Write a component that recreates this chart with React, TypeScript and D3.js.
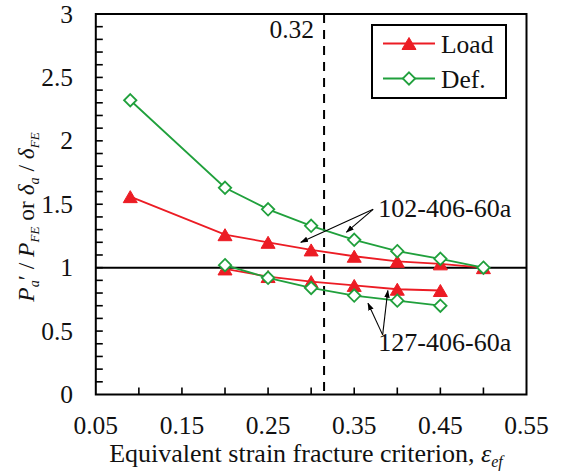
import React from "react";
import * as d3 from "d3";

const W = 561;
const H = 476;

// Data
const xTop = [0.09, 0.2, 0.25, 0.3, 0.35, 0.4, 0.45, 0.5];
const loadTop = [1.56, 1.26, 1.2, 1.14, 1.09, 1.05, 1.03, 1.0];
const defTop = [2.32, 1.63, 1.46, 1.33, 1.22, 1.13, 1.07, 1.0];
const xBot = [0.2, 0.25, 0.3, 0.35, 0.4, 0.45];
const loadBot = [0.99, 0.93, 0.89, 0.86, 0.83, 0.82];
const defBot = [1.02, 0.92, 0.84, 0.78, 0.74, 0.7];

const xTickLabels = [0.05, 0.15, 0.25, 0.35, 0.45, 0.55];
const yTickLabels = [0, 0.5, 1, 1.5, 2, 2.5, 3];
const criterion = 0.315;
const criterionLabel = "0.32";
const refLine = 1;

const RED = "#EC1C24";
const GREEN = "#20A03C";
const FONT = "Liberation Serif";

const x = d3.scaleLinear().domain([0.05, 0.55]).range([95.8, 526.5]);
const y = d3.scaleLinear().domain([0, 3]).range([394.5, 14]);

const line = d3
  .line<[number, number]>()
  .x((d) => x(d[0]))
  .y((d) => y(d[1]));

const zip = (a: number[], b: number[]) => a.map((v, i) => [v, b[i]] as [number, number]);

const triPath = (cx: number, cy: number) => {
  const w = 14, h = 12;
  return `M${cx},${cy - h / 2}L${cx + w / 2},${cy + h / 2}L${cx - w / 2},${cy + h / 2}Z`;
};
const diaPath = (cx: number, cy: number) => {
  const r = 6.2;
  return `M${cx},${cy - r}L${cx + r},${cy}L${cx},${cy + r}L${cx - r},${cy}Z`;
};

// annotations in data coordinates
const ann102 = { label: "102-406-60a", lx: 0.378, ly: 1.4, ox: 0.372, oy: 1.46, ends: [[0.288, 1.2], [0.341, 1.28]] };
const ann127 = { label: "127-406-60a", lx: 0.378, ly: 0.34, ox: 0.383, oy: 0.47, ends: [[0.366, 0.72], [0.389, 0.82]] };

export default function App() {
  const xMinorTicks = d3.range(0.1, 0.5001, 0.05);
  const yMinorTicks = d3.range(0.1, 2.9501, 0.1);
  const [x0, x1] = x.range();
  const [y0, y1] = y.range();
  const fs = 25.5;
  const fa = 26;

  const Series = ({ xs, ys, color, kind }: { xs: number[]; ys: number[]; color: string; kind: "tri" | "dia" }) => (
    <g>
      <path d={line(zip(xs, ys)) || ""} fill="none" stroke={color} strokeWidth={1.8} />
      {xs.map((xv, i) =>
        kind === "tri" ? (
          <path key={i} d={triPath(x(xv), y(ys[i]))} fill={color} stroke={color} strokeWidth={1} />
        ) : (
          <path key={i} d={diaPath(x(xv), y(ys[i]))} fill="#fff" stroke={color} strokeWidth={1.8} />
        )
      )}
    </g>
  );

  const Ann = ({ a }: { a: typeof ann102 }) => (
    <g>
      {a.ends.map((e, i) => (
        <line key={i} x1={x(a.ox)} y1={y(a.oy)} x2={x(e[0])} y2={y(e[1])} stroke="#000" strokeWidth={1.1} markerEnd="url(#arr)" />
      ))}
      <text x={x(a.lx)} y={y(a.ly)} fontSize={fa} fontFamily={FONT} fill="#111">{a.label}</text>
    </g>
  );

  return (
    <svg width={W} height={H} style={{ position: "absolute", left: 0, top: 0, background: "#fff" }}>
      <defs>
        <marker id="arr" viewBox="0 0 10 10" refX="9" refY="5" markerWidth="8" markerHeight="8" orient="auto" markerUnits="userSpaceOnUse">
          <path d="M0,1.5L10,5L0,8.5Z" fill="#000" />
        </marker>
      </defs>
      <rect x={0} y={0} width={W} height={H} fill="#fff" />

      {/* ticks */}
      {xMinorTicks.map((t, i) => (
        <line key={"xt" + i} x1={x(t)} x2={x(t)} y1={y0} y2={y0 - 7} stroke="#000" strokeWidth={1.6} />
      ))}
      {yMinorTicks.map((t, i) => (
        <line key={"yt" + i} x1={x0} x2={x0 + 7} y1={y(t)} y2={y(t)} stroke="#000" strokeWidth={1.6} />
      ))}

      {/* reference line y=1 */}
      <line x1={x0} x2={x1} y1={y(refLine)} y2={y(refLine)} stroke="#000" strokeWidth={2} />

      {/* criterion dashed line */}
      <line x1={x(criterion)} x2={x(criterion)} y1={y1} y2={y0} stroke="#000" strokeWidth={2} strokeDasharray="9,7" />
      <text x={x(criterion) - 10} y={38} textAnchor="end" fontSize={fs} fontFamily={FONT} fill="#111">{criterionLabel}</text>

      {/* series */}
      <Series xs={xTop} ys={loadTop} color={RED} kind="tri" />
      <Series xs={xBot} ys={loadBot} color={RED} kind="tri" />
      <Series xs={xTop} ys={defTop} color={GREEN} kind="dia" />
      <Series xs={xBot} ys={defBot} color={GREEN} kind="dia" />

      {/* annotations */}
      <Ann a={ann102} />
      <Ann a={ann127} />

      {/* frame */}
      <rect x={x0} y={y1} width={x1 - x0} height={y0 - y1} fill="none" stroke="#000" strokeWidth={2} />

      {/* tick labels */}
      {xTickLabels.map((t, i) => (
        <text key={"xl" + i} x={x(t)} y={434} textAnchor="middle" fontSize={fs} fontFamily={FONT} fill="#111">
          {d3.format(".2f")(t)}
        </text>
      ))}
      {yTickLabels.map((t, i) => (
        <text key={"yl" + i} x={73} y={y(t) + 8.5} textAnchor="end" fontSize={fs} fontFamily={FONT} fill="#111">
          {String(t)}
        </text>
      ))}

      {/* x title */}
      <text x={306} y={462} textAnchor="middle" fontSize={fa} fontFamily={FONT} fill="#111">
        Equivalent strain fracture criterion,{" "}
        <tspan fontStyle="italic">ε</tspan>
        <tspan fontStyle="italic" fontSize={16} dy={5}>ef</tspan>
      </text>

      {/* y title */}
      <text transform="translate(34,217) rotate(-90)" textAnchor="middle" fontSize={23.5} fontFamily={FONT} fill="#111">
        <tspan fontStyle="italic">P</tspan>
        <tspan fontStyle="italic" fontSize={14} dy={5}>a</tspan>
        <tspan dy={-5}>′ / </tspan>
        <tspan fontStyle="italic">P</tspan>
        <tspan fontStyle="italic" fontSize={13} dy={5}>FE</tspan>
        <tspan dy={-5}> or </tspan>
        <tspan fontStyle="italic">δ</tspan>
        <tspan fontStyle="italic" fontSize={14} dy={5}>a</tspan>
        <tspan dy={-5}> / </tspan>
        <tspan fontStyle="italic">δ</tspan>
        <tspan fontStyle="italic" fontSize={13} dy={5}>FE</tspan>
      </text>

      {/* legend */}
      <g>
        <rect x={372} y={25} width={134} height={73} fill="#fff" stroke="#000" strokeWidth={2} />
        <line x1={383} x2={435} y1={43.5} y2={43.5} stroke={RED} strokeWidth={1.8} />
        <path d={triPath(409, 43.5)} fill={RED} stroke={RED} strokeWidth={1} />
        <text x={441} y={52.5} fontSize={fs} fontFamily={FONT} fill="#111">Load</text>
        <line x1={383} x2={435} y1={78.5} y2={78.5} stroke={GREEN} strokeWidth={1.8} />
        <path d={diaPath(409, 78.5)} fill="#fff" stroke={GREEN} strokeWidth={1.8} />
        <text x={441} y={88} fontSize={fs} fontFamily={FONT} fill="#111">Def.</text>
      </g>
    </svg>
  );
}
